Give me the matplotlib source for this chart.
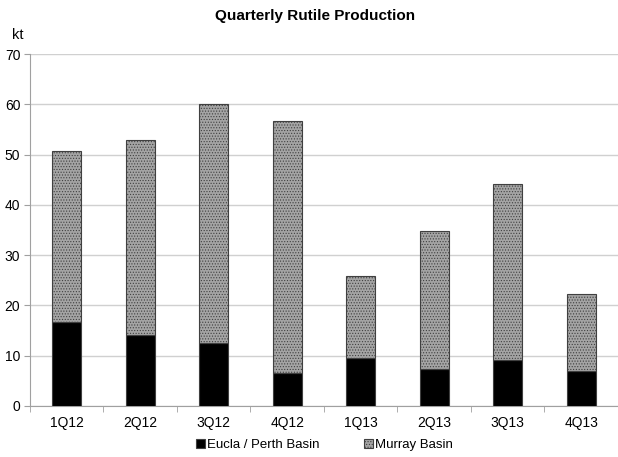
import numpy as np
import matplotlib
matplotlib.use("Agg")
from matplotlib import pyplot as plt

plt.rcParams['font.family'] = ['Liberation Sans', 'DejaVu Sans']
plt.rcParams['hatch.color'] = '#c4c4c4'
plt.rcParams['hatch.linewidth'] = 0.5

quarters = ['1Q12', '2Q12', '3Q12', '4Q12', '1Q13', '2Q13', '3Q13', '4Q13']
eucla_perth = [16.8, 14.1, 12.5, 6.6, 9.5, 7.4, 9.1, 7.0]
murray = [33.9, 38.8, 47.5, 50.1, 16.3, 27.4, 35.0, 15.3]

fig = plt.figure(figsize=(6.18, 4.57), dpi=100)
ax = fig.add_axes([0.0485, 0.1116, 0.9515, 0.7702])

x = np.arange(len(quarters))
ax.bar(x, eucla_perth, width=0.4, color='black', edgecolor='#404040',
       linewidth=0.8, label='Eucla / Perth Basin', zorder=3)
ax.bar(x, murray, width=0.4, bottom=eucla_perth, color='#a4a4a4',
       edgecolor='#404040', linewidth=0.8, hatch='......',
       label='Murray Basin', zorder=3)

ax.set_xlim(-0.5, len(quarters) - 0.5)
ax.set_ylim(0, 70)
ax.set_yticks(range(0, 71, 10))
ax.set_xticks(x)
ax.set_xticklabels(quarters)
ax.set_xticks(np.arange(-0.5, len(quarters), 1), minor=True)
ax.tick_params(axis='x', which='major', length=0, labelsize=10, pad=7)
ax.tick_params(axis='x', which='minor', length=4, color='#a0a0a0')
ax.tick_params(axis='y', length=4, color='#a0a0a0', labelsize=10, pad=3)
ax.yaxis.grid(True, color='#d0d0d0', linewidth=1)
ax.set_axisbelow(True)
for side in ['top', 'right']:
    ax.spines[side].set_visible(False)
ax.spines['left'].set_color('#a0a0a0')
ax.spines['bottom'].set_color('#a0a0a0')

fig.text(0.51, 0.964, 'Quarterly Rutile Production', ha='center', va='center',
         fontsize=11, fontweight='bold')
fig.text(0.019, 0.923, 'kt', ha='left', va='center', fontsize=10.5)

fig.legend(loc='center', bbox_to_anchor=(0.525, 0.027), ncol=2, frameon=False,
           fontsize=9.5, handlelength=0.7, handleheight=0.7, handletextpad=0.2,
           columnspacing=3.3)

fig.savefig('out.png', dpi=100)
